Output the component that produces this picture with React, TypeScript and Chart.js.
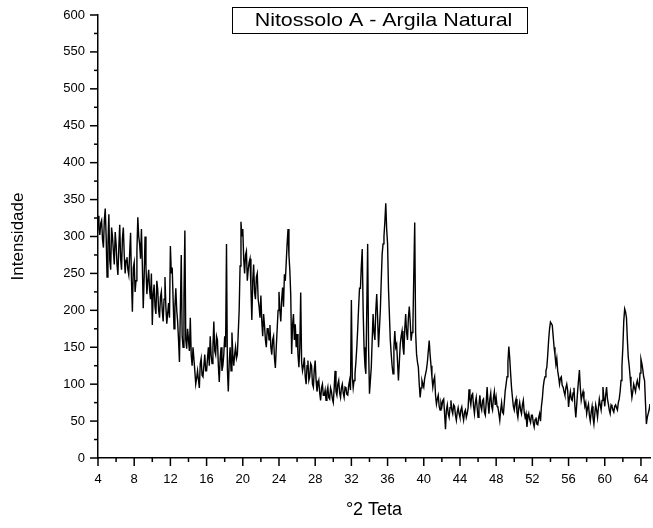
import React, { useEffect, useRef } from "react";
import { Chart, registerables } from "chart.js";

Chart.register(...registerables);

const CHART_TITLE = "Nitossolo A - Argila Natural";
const X_TITLE = "°2 Teta";
const Y_TITLE = "Intensidade";

const ANGLE_START = 4;
const ANGLE_STEP = 0.1;

// Intensity readings, 0.1° apart (one row per degree)
const INTENSITY_04_13 = [
  328, 312, 302, 318, 322, 296, 285, 322, 338, 300,
  245, 290, 330, 268, 255, 312, 300, 280, 262, 306,
  290, 262, 248, 285, 316, 270, 255, 298, 312, 275,
  250, 268, 272, 255, 248, 278, 305, 240, 198, 258,
  265, 225, 240, 280, 326, 300, 290, 270, 310, 262,
  203, 245, 300, 260, 222, 240, 255, 228, 215, 250,
  180, 222, 235, 205, 195, 240, 228, 200, 190, 218,
  225, 200, 185, 215, 245, 205, 182, 196, 210, 190,
  287, 250, 258, 215, 175, 205, 230, 200, 185, 160,
  130, 200, 275, 165, 150, 220, 308, 160, 148, 175,
];
const INTENSITY_14_23 = [
  160, 145, 190, 140, 125, 150, 150, 118, 100, 108,
  118, 106, 95, 128, 135, 112, 110, 125, 140, 118,
  118, 135, 150, 125, 165, 140, 128, 150, 185, 145,
  140, 165, 160, 125, 103, 135, 150, 118, 125, 140,
  165, 150, 290, 120, 90, 130, 150, 118, 170, 140,
  125, 140, 150, 135, 140, 170, 200, 260, 320, 300,
  310, 270, 250, 275, 280, 240, 255, 265, 270, 230,
  187, 240, 262, 225, 215, 245, 250, 215, 205, 190,
  220, 185, 165, 195, 180, 160, 150, 175, 175, 160,
  180, 150, 140, 160, 165, 135, 122, 150, 175, 200,
];
const INTENSITY_24_33 = [
  225, 200, 185, 215, 231, 205, 249, 240, 265, 290,
  310, 275, 254, 220, 141, 180, 195, 160, 181, 150,
  168, 140, 123, 150, 224, 130, 118, 125, 136, 110,
  100, 125, 132, 105, 110, 128, 125, 100, 96, 120,
  132, 105, 90, 100, 105, 88, 78, 95, 100, 85,
  85, 92, 78, 90, 96, 82, 80, 95, 90, 80,
  75, 95, 118, 90, 85, 100, 105, 88, 82, 95,
  100, 88, 82, 96, 95, 86, 85, 98, 105, 92,
  214, 110, 95, 105, 114, 130, 150, 175, 204, 230,
  230, 260, 283, 200, 150, 125, 114, 200, 290, 150,
];
const INTENSITY_34_43 = [
  87, 105, 123, 160, 195, 170, 160, 200, 222, 190,
  150, 175, 200, 240, 276, 290, 300, 320, 345, 310,
  290, 230, 195, 160, 141, 125, 114, 150, 172, 150,
  154, 130, 105, 130, 154, 165, 172, 150, 140, 175,
  195, 170, 160, 190, 205, 185, 159, 170, 180, 250,
  319, 170, 141, 130, 123, 100, 82, 95, 105, 100,
  96, 108, 114, 120, 130, 145, 159, 140, 125, 110,
  96, 105, 110, 85, 73, 80, 85, 70, 65, 75,
  70, 78, 80, 60, 39, 65, 72, 60, 55, 68,
  78, 65, 60, 72, 70, 58, 51, 62, 68, 60,
];
const INTENSITY_44_53 = [
  55, 65, 69, 58, 51, 62, 65, 55, 60, 68,
  93, 80, 72, 85, 87, 70, 60, 75, 82, 68,
  55, 72, 85, 70, 65, 78, 80, 62, 58, 75,
  96, 75, 60, 80, 88, 70, 65, 82, 90, 72,
  82, 70, 68, 60, 51, 65, 75, 62, 60, 75,
  91, 100, 110, 130, 151, 135, 114, 95, 82, 70,
  65, 75, 80, 62, 55, 68, 75, 65, 60, 72,
  78, 62, 55, 60, 42, 55, 60, 52, 48, 58,
  58, 48, 42, 52, 55, 46, 45, 55, 60, 50,
  70, 80, 96, 105, 110, 118, 123, 140, 160, 175,
];
const INTENSITY_54_65 = [
  184, 182, 180, 165, 150, 140, 127, 135, 118, 110,
  100, 108, 110, 98, 96, 90, 85, 95, 100, 92,
  69, 82, 90, 80, 78, 88, 95, 70, 55, 72,
  90, 105, 119, 95, 78, 85, 90, 80, 70, 75,
  60, 68, 73, 58, 50, 62, 70, 55, 46, 60,
  72, 65, 55, 68, 80, 72, 65, 78, 96, 82,
  70, 85, 96, 80, 73, 65, 60, 72, 70, 65,
  62, 70, 72, 68, 65, 75, 80, 90, 105, 125,
  150, 185, 202, 198, 190, 160, 136, 125, 110, 95,
  82, 90, 100, 95, 90, 100, 105, 98, 95, 115,
  134, 128, 120, 110, 105, 75, 46, 55, 60, 65,
  73,
];

const X_MIN = 4;
const X_MAX = 65;
const X_MAJOR = 4;
const X_MINOR = 2;
const Y_MIN = 0;
const Y_MAX = 600;
const Y_MAJOR = 50;
const Y_MINOR = 25;

const FONT = "'Liberation Sans', Arial, Helvetica, sans-serif";

const intensities = [
  ...INTENSITY_04_13,
  ...INTENSITY_14_23,
  ...INTENSITY_24_33,
  ...INTENSITY_34_43,
  ...INTENSITY_44_53,
  ...INTENSITY_54_65,
];

const points = intensities.map((v, i) => ({
  x: Math.round((ANGLE_START + i * ANGLE_STEP) * 100) / 100,
  y: v,
}));

const tickMarksPlugin = {
  id: "tickMarks",
  afterDraw(chart: any) {
    const { ctx, scales } = chart;
    const xs = scales.x;
    const ys = scales.y;
    const axisY = ys.getPixelForValue(Y_MIN);
    const axisX = xs.getPixelForValue(X_MIN);
    ctx.save();
    ctx.strokeStyle = "#000";
    ctx.lineWidth = 1.5;
    for (let v = X_MIN; v <= X_MAX; v += X_MINOR) {
      const px = xs.getPixelForValue(v);
      const major = (v - X_MIN) % X_MAJOR === 0;
      ctx.beginPath();
      ctx.moveTo(px, axisY);
      ctx.lineTo(px, axisY + (major ? 8 : 4));
      ctx.stroke();
    }
    for (let v = Y_MIN; v <= Y_MAX; v += Y_MINOR) {
      const py = ys.getPixelForValue(v);
      const major = v % Y_MAJOR === 0;
      ctx.beginPath();
      ctx.moveTo(axisX, py);
      ctx.lineTo(axisX - (major ? 8 : 4), py);
      ctx.stroke();
    }
    // title box
    const bx = 232, by = 7, bw = 295, bh = 26;
    ctx.fillStyle = "#fff";
    ctx.fillRect(bx, by, bw, bh);
    ctx.lineWidth = 1;
    ctx.strokeStyle = "#000";
    ctx.strokeRect(bx + 0.5, by + 0.5, bw, bh);
    ctx.fillStyle = "#000";
    ctx.font = `19px ${FONT}`;
    ctx.textAlign = "center";
    ctx.textBaseline = "middle";
    ctx.translate(bx + bw / 2 + 4, by + bh / 2 + 1);
    ctx.scale(1.13, 1);
    ctx.fillText(CHART_TITLE, 0, 0);
    ctx.restore();
  },
};

export default function App() {
  const canvasRef = useRef<HTMLCanvasElement | null>(null);

  useEffect(() => {
    const canvas = canvasRef.current;
    if (!canvas) return;
    const chart = new Chart(canvas, {
      type: "line",
      data: {
        datasets: [
          {
            data: points,
            borderColor: "#000",
            borderWidth: 1.4,
            pointRadius: 0,
            tension: 0,
            fill: false,
          },
        ],
      },
      options: {
        animation: false,
        responsive: false,
        maintainAspectRatio: false,
        layout: { padding: { left: 0, top: 15, right: 3, bottom: 0 } },
        plugins: {
          legend: { display: false },
          tooltip: { enabled: false },
          title: { display: false },
        },
        scales: {
          x: {
            type: "linear",
            min: X_MIN,
            max: X_MAX,
            grid: { display: false, drawTicks: false },
            border: { display: true, color: "#000", width: 1.5 },
            ticks: {
              stepSize: X_MAJOR,
              includeBounds: false,
              autoSkip: false,
              maxRotation: 0,
              padding: 14,
              color: "#000",
              font: { family: FONT, size: 13 },
            },
            title: {
              display: true,
              text: X_TITLE,
              color: "#000",
              font: { family: FONT, size: 18 },
              padding: { top: 4, bottom: 7 },
            },
            afterFit(scale: any) {
              scale.height = 70;
              scale.paddingLeft = 0;
              scale.paddingRight = 0;
            },
          },
          y: {
            type: "linear",
            min: Y_MIN,
            max: Y_MAX,
            grid: { display: false, drawTicks: false },
            border: { display: true, color: "#000", width: 1.5 },
            ticks: {
              stepSize: Y_MAJOR,
              padding: 13,
              color: "#000",
              font: { family: FONT, size: 13 },
            },
            title: {
              display: true,
              text: Y_TITLE,
              color: "#000",
              font: { family: FONT, size: 17 },
              padding: { top: 8, bottom: 0 },
            },
            afterFit(scale: any) {
              scale.width = 98;
              scale.paddingTop = 0;
              scale.paddingBottom = 0;
            },
          },
        },
      },
      plugins: [tickMarksPlugin],
    });
    return () => chart.destroy();
  }, []);

  return (
    <div style={{ position: "absolute", left: 0, top: 0, width: 653, height: 528, background: "#fff" }}>
      <canvas ref={canvasRef} width={653} height={528} style={{ display: "block" }} />
    </div>
  );
}
